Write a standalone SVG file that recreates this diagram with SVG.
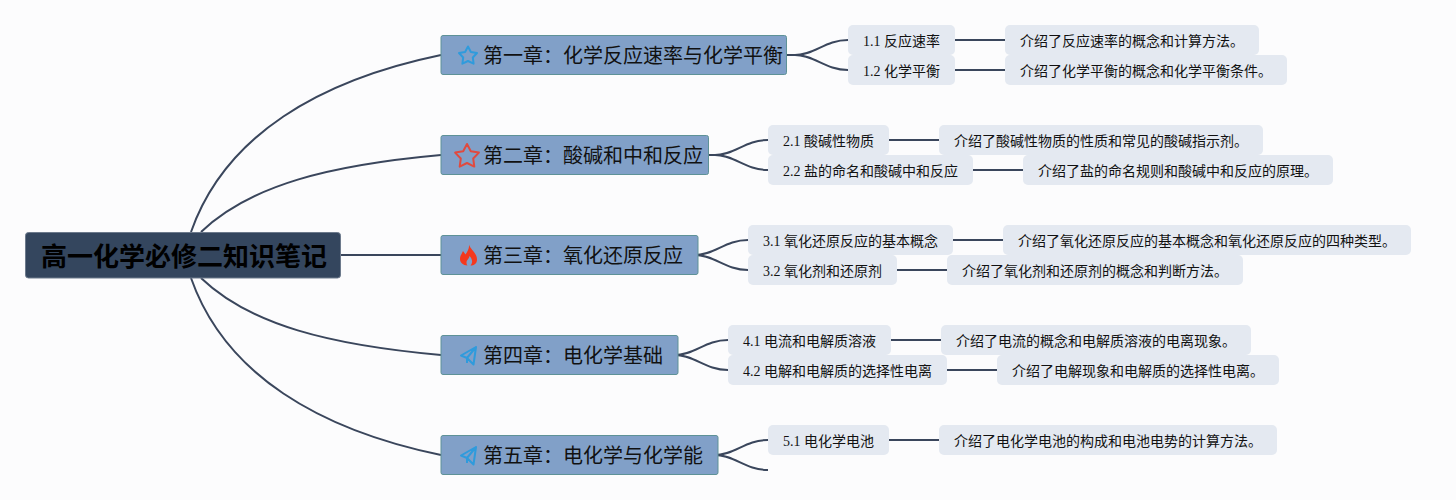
<svg xmlns="http://www.w3.org/2000/svg" width="1456" height="500" viewBox="0 0 1456 500">
<style>
text{font-family:"Liberation Serif","Noto Sans CJK SC",serif;fill:#111}
.root rect{fill:#34465e;stroke:#6d7a8c;stroke-width:1}
.root text{font-family:"Liberation Sans","Noto Sans CJK SC",sans-serif;font-size:26px;font-weight:700;fill:#000}
.ch rect{fill:#81a0c8;stroke:#5e9297;stroke-width:1}
.ch text{font-size:20px}
.sub rect,.det rect{fill:#e4e9f1}
.sub text,.det text{font-size:14px}
#connectors path{fill:none;stroke:#3a465c;stroke-width:2}
.star{fill:none;stroke-width:2;stroke-linejoin:round}
.plane{fill:none;stroke:#2f9bdc;stroke-width:2;stroke-linejoin:round}
</style>
<rect width="1456" height="500" fill="#fcfcfd"/>
<g id="connectors">
<path d="M191 232C225 135 320 80 441 55"/>
<path d="M201 232C250 185 330 165 441 155"/>
<path d="M341 255H441"/>
<path d="M201 278C250 325 330 345 441 355"/>
<path d="M191 278C225 375 320 430 441 455"/>
<path d="M787 55H795C815 55 825 40 848 40"/>
<path d="M787 55H795C815 55 825 70 848 70"/>
<path d="M709 155H715C735 155 745 140 768 140"/>
<path d="M709 155H715C735 155 745 170 768 170"/>
<path d="M698 255H695C715 255 725 240 748 240"/>
<path d="M698 255H695C715 255 725 270 748 270"/>
<path d="M678 355H675C695 355 705 340 728 340"/>
<path d="M678 355H675C695 355 705 370 728 370"/>
<path d="M718 455H715C735 455 745 440 768 440"/>
<path d="M718 455H715C735 455 745 470 768 470"/>
<path d="M955 40H1005"/><path d="M955 70H1005"/>
<path d="M889 140H939"/><path d="M973 170H1023"/>
<path d="M953 240H1003"/><path d="M897 270H947"/>
<path d="M891 340H941"/><path d="M947 370H997"/>
<path d="M889 440H939"/>
</g>
<g id="root" class="root"><rect x="25.500" y="232.500" width="315" height="45.500" rx="3"/><text x="41" y="266">高一化学必修二知识笔记</text></g>
<g id="ch1" class="ch"><rect x="441" y="35.500" width="345.500" height="39" rx="2"/><path class="star" stroke="#2f9bdc" d="M468 46.500L470.900 52L477 53L472.800 57.500L473.600 63.700L468 61L462.400 63.700L463.200 57.500L459 53L465.100 52Z"/><text x="483" y="63">第一章：化学反应速率与化学平衡</text></g>
<g id="ch2" class="ch"><rect x="441" y="135.500" width="267.500" height="39" rx="2"/><path class="star" stroke="#e04a3f" d="M467 144L470.800 151.200L478.900 152.600L473.200 158.500L474.300 166.600L467 163L459.700 166.600L460.800 158.500L455.100 152.600L463.200 151.200Z"/><text x="483" y="163">第二章：酸碱和中和反应</text></g>
<g id="ch3" class="ch"><rect x="441" y="235.500" width="257" height="39" rx="2"/><path fill="#f4391e" d="M469 244.500C470 249 477 253 477 259.500C477 263.500 474 265.500 470.500 265.500C473 263 472.500 259 469.500 256C469 259 466.500 260 466.500 262.500C466.500 264 467 265 467.500 265.500C463 265.500 460 262.500 460 259C460 255.500 462 253.500 463 251C464 252.500 465 253.500 465.500 254.500C467.500 252 469.500 248 469 244.500Z"/><text x="483" y="263">第三章：氧化还原反应</text></g>
<g id="ch4" class="ch"><rect x="441" y="335.500" width="237" height="39" rx="2"/><path class="plane" d="M476 347L461 355.500L467 358L473.500 364.500ZM476 347L467 358V363"/><text x="483" y="363">第四章：电化学基础</text></g>
<g id="ch5" class="ch"><rect x="441" y="435.500" width="277" height="39" rx="2"/><path class="plane" d="M476 447L461 455.500L467 458L473.500 464.500ZM476 447L467 458V463"/><text x="483" y="463">第五章：电化学与化学能</text></g>
<g id="s11" class="sub"><rect x="848" y="25" width="107" height="30" rx="5"/><text x="863" y="46">1.1 反应速率</text></g>
<g id="s12" class="sub"><rect x="848" y="55" width="107" height="30" rx="5"/><text x="863" y="76">1.2 化学平衡</text></g>
<g id="d11" class="det"><rect x="1005" y="25" width="254" height="30" rx="5"/><text x="1020" y="46">介绍了反应速率的概念和计算方法。</text></g>
<g id="d12" class="det"><rect x="1005" y="55" width="282" height="30" rx="5"/><text x="1020" y="76">介绍了化学平衡的概念和化学平衡条件。</text></g>
<g id="s21" class="sub"><rect x="768" y="125" width="121" height="30" rx="5"/><text x="783" y="146">2.1 酸碱性物质</text></g>
<g id="s22" class="sub"><rect x="768" y="155" width="205" height="30" rx="5"/><text x="783" y="176">2.2 盐的命名和酸碱中和反应</text></g>
<g id="d21" class="det"><rect x="939" y="125" width="324" height="30" rx="5"/><text x="954" y="146">介绍了酸碱性物质的性质和常见的酸碱指示剂。</text></g>
<g id="d22" class="det"><rect x="1023" y="155" width="310" height="30" rx="5"/><text x="1038" y="176">介绍了盐的命名规则和酸碱中和反应的原理。</text></g>
<g id="s31" class="sub"><rect x="748" y="225" width="205" height="30" rx="5"/><text x="763" y="246">3.1 氧化还原反应的基本概念</text></g>
<g id="s32" class="sub"><rect x="748" y="255" width="149" height="30" rx="5"/><text x="763" y="276">3.2 氧化剂和还原剂</text></g>
<g id="d31" class="det"><rect x="1003" y="225" width="408" height="30" rx="5"/><text x="1018" y="246">介绍了氧化还原反应的基本概念和氧化还原反应的四种类型。</text></g>
<g id="d32" class="det"><rect x="947" y="255" width="296" height="30" rx="5"/><text x="962" y="276">介绍了氧化剂和还原剂的概念和判断方法。</text></g>
<g id="s41" class="sub"><rect x="728" y="325" width="163" height="30" rx="5"/><text x="743" y="346">4.1 电流和电解质溶液</text></g>
<g id="s42" class="sub"><rect x="728" y="355" width="219" height="30" rx="5"/><text x="743" y="376">4.2 电解和电解质的选择性电离</text></g>
<g id="d41" class="det"><rect x="941" y="325" width="310" height="30" rx="5"/><text x="956" y="346">介绍了电流的概念和电解质溶液的电离现象。</text></g>
<g id="d42" class="det"><rect x="997" y="355" width="282" height="30" rx="5"/><text x="1012" y="376">介绍了电解现象和电解质的选择性电离。</text></g>
<g id="s51" class="sub"><rect x="768" y="425" width="121" height="30" rx="5"/><text x="783" y="446">5.1 电化学电池</text></g>
<g id="d51" class="det"><rect x="939" y="425" width="338" height="30" rx="5"/><text x="954" y="446">介绍了电化学电池的构成和电池电势的计算方法。</text></g>
</svg>
